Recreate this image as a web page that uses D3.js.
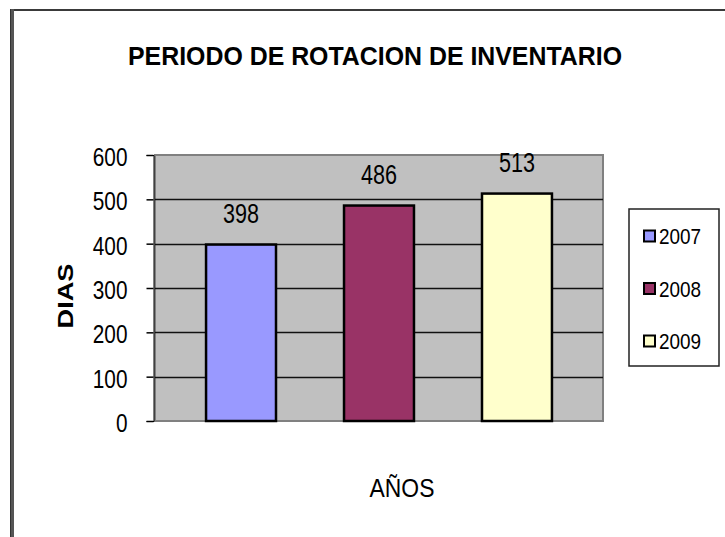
<!DOCTYPE html>
<html>
<head>
<meta charset="utf-8">
<script src="https://cdn.jsdelivr.net/npm/d3@7"></script>
<style>
  html, body { margin: 0; padding: 0; background: #fff; }
  svg { display: block; }
  text { font-family: "Liberation Sans", Arial, sans-serif; fill: #000; }
</style>
</head>
<body>
<svg id="chart" width="725" height="537"></svg>
<script>
// Periodo de rotación de inventario, en días, por año
const years = ["2007", "2008", "2009"];
const days = [398, 486, 513];
const colors = ["#9999FF", "#993366", "#FFFFCC"];
const yTicks = [0, 100, 200, 300, 400, 500, 600];

const svg = d3.select("#chart");

// Squeeze text horizontally to a narrow face
function condense(sel, k) {
  sel.each(function () {
    const w = this.getComputedTextLength();
    d3.select(this).attr("textLength", w * k).attr("lengthAdjust", "spacingAndGlyphs");
  });
}

// Outer chart frame
svg.append("line").attr("x1", 10).attr("x2", 725).attr("y1", 10).attr("y2", 10)
  .attr("stroke", "#3a3a3a").attr("stroke-width", 2);
svg.append("line").attr("x1", 12).attr("x2", 12).attr("y1", 9).attr("y2", 537)
  .attr("stroke", "#555").attr("stroke-width", 4);
svg.append("line").attr("x1", 10.5).attr("x2", 10.5).attr("y1", 9).attr("y2", 537)
  .attr("stroke", "#333").attr("stroke-width", 1);

// Title
svg.append("text")
  .attr("x", 375).attr("y", 65)
  .attr("text-anchor", "middle")
  .attr("font-size", 26).attr("font-weight", "bold")
  .attr("textLength", 494).attr("lengthAdjust", "spacingAndGlyphs")
  .text("PERIODO DE ROTACION DE INVENTARIO");

// Scales
const plot = { left: 155, right: 603, top: 155, bottom: 421 };
const x = d3.scaleBand().domain(years).range([plot.left, plot.right])
  .paddingInner(0.493).paddingOuter(0.37);
const y = d3.scaleLinear().domain([0, 600]).range([plot.bottom, plot.top]);

// Plot area
svg.append("rect")
  .attr("x", plot.left).attr("y", plot.top)
  .attr("width", plot.right - plot.left).attr("height", plot.bottom - plot.top)
  .attr("fill", "#C0C0C0").attr("stroke", "#808080").attr("stroke-width", 2);

// Gridlines
svg.append("g").selectAll("line")
  .data(yTicks.filter(t => t > 0 && t < 600))
  .join("line")
  .attr("x1", plot.left).attr("x2", plot.right)
  .attr("y1", d => Math.round(y(d)) + 0.5).attr("y2", d => Math.round(y(d)) + 0.5)
  .attr("stroke", "#111").attr("stroke-width", 1.5);

// Y axis
const yAxis = svg.append("g")
  .attr("transform", `translate(${plot.left - 1.5},0)`)
  .call(d3.axisLeft(y).tickValues(yTicks).tickSize(7).tickPadding(19));
yAxis.select(".domain").attr("stroke", "#000").attr("stroke-width", 1);
yAxis.selectAll(".tick line").attr("stroke", "#000").attr("stroke-width", 1.5);
yAxis.selectAll(".tick text")
  .attr("font-family", "Liberation Sans, Arial, sans-serif")
  .attr("font-size", 26).attr("dy", "0.4em").attr("fill", "#222")
  .call(condense, 0.8);

// Bars
svg.append("g").selectAll("rect")
  .data(years)
  .join("rect")
  .attr("x", d => x(d))
  .attr("y", (d, i) => y(days[i]))
  .attr("width", x.bandwidth())
  .attr("height", (d, i) => y(0) - y(days[i]))
  .attr("fill", (d, i) => colors[i])
  .attr("stroke", "#000").attr("stroke-width", 2.5);

// Value labels
svg.append("g").selectAll("text")
  .data(years)
  .join("text")
  .attr("x", d => x(d) + x.bandwidth() / 2)
  .attr("y", (d, i) => y(days[i]) - 22)
  .attr("text-anchor", "middle")
  .attr("font-size", 27).attr("fill", "#222")
  .text((d, i) => days[i])
  .call(condense, 0.8);

// Axis titles
svg.append("text")
  .attr("transform", "translate(73,296) rotate(-90)")
  .attr("text-anchor", "middle")
  .attr("font-size", 22).attr("font-weight", "bold")
  .attr("textLength", 65).attr("lengthAdjust", "spacingAndGlyphs")
  .text("DIAS");

svg.append("text")
  .attr("x", 402).attr("y", 497)
  .attr("text-anchor", "middle")
  .attr("font-size", 26)
  .text("AÑOS")
  .call(condense, 0.88);

// Legend
const legend = svg.append("g");
legend.append("rect")
  .attr("x", 629).attr("y", 209).attr("width", 90).attr("height", 157)
  .attr("fill", "#fff").attr("stroke", "#222").attr("stroke-width", 1.5);
const legendY = d3.scalePoint().domain(years).range([236, 341]);
const items = legend.selectAll("g.item").data(years).join("g").attr("class", "item")
  .attr("transform", d => `translate(0,${legendY(d)})`);
items.append("rect")
  .attr("x", 644).attr("y", -5.5).attr("width", 11).attr("height", 11)
  .attr("fill", (d, i) => colors[i]).attr("stroke", "#000").attr("stroke-width", 2);
items.append("text")
  .attr("x", 659).attr("y", 8)
  .attr("font-size", 22)
  .text(d => d)
  .call(condense, 0.86);
</script>
</body>
</html>
